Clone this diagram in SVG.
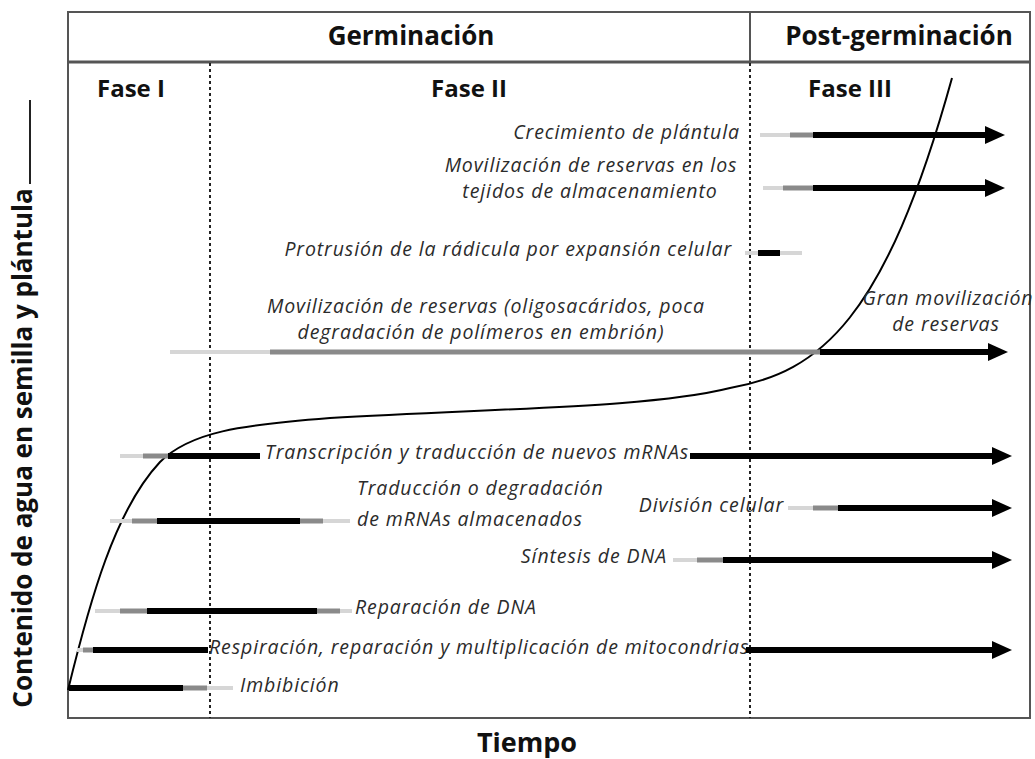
<svg xmlns="http://www.w3.org/2000/svg" width="1035" height="759" viewBox="0 0 1035 759">
<style>
.hd{font-family:"Open Sans","Liberation Sans",sans-serif;font-weight:700;fill:#111}
.lb{font-family:"Open Sans","Liberation Sans",sans-serif;font-style:italic;font-size:19.5px;letter-spacing:0.9px;fill:#2b2b2b}
.lt{stroke:#d6d6d6;stroke-width:4;fill:none}
.md{stroke:#8a8a8a;stroke-width:5;fill:none}
.bk{stroke:#000;stroke-width:6;fill:none}
.ar{marker-end:url(#ah)}
.dash{stroke:#222;stroke-width:2;stroke-dasharray:3 3;fill:none}
.frame{stroke:#555;stroke-width:2;fill:#fff}
</style>
<defs>
<marker id="ah" markerUnits="userSpaceOnUse" markerWidth="20" markerHeight="18" viewBox="0 0 20 18" refX="1" refY="9" orient="auto">
<path d="M0,0 L20,9 L0,18 z" fill="#000"/>
</marker>
</defs>
<rect width="1035" height="759" fill="#fff"/>
<g id="frame">
<rect class="frame" x="68" y="12" width="962" height="706"/>
<line x1="68" y1="62" x2="1030" y2="62" stroke="#555" stroke-width="3"/>
<line x1="750" y1="12" x2="750" y2="62" stroke="#555" stroke-width="2"/>
<line class="dash" x1="210" y1="63" x2="210" y2="718"/>
<line class="dash" x1="750" y1="63" x2="750" y2="718"/>
</g>
<g id="headers">
<text class="hd" x="411" y="45" font-size="26" text-anchor="middle">Germinación</text>
<text class="hd" x="899" y="45" font-size="26" text-anchor="middle">Post-germinación</text>
<text class="hd" x="97" y="97" font-size="24">Fase I</text>
<text class="hd" x="469" y="97" font-size="24" text-anchor="middle">Fase II</text>
<text class="hd" x="850" y="97" font-size="24" text-anchor="middle">Fase III</text>
<text class="hd" x="527" y="752" font-size="27" text-anchor="middle">Tiempo</text>
<text class="hd" transform="translate(32,448) rotate(-90)" font-size="26" text-anchor="middle">Contenido de agua en semilla y plántula</text>
<line x1="30" y1="184" x2="30" y2="100" stroke="#222" stroke-width="2"/>
</g>
<g id="connectors">
<path d="M68,690 C90,600 115,510 160,462 C190,432 240,425 330,418 C500,408 650,408 730,388 C820,372 885,320 952,78" fill="none" stroke="#000" stroke-width="2"/>
</g>
<g id="crecimiento">
<text class="lb" x="740" y="139" text-anchor="end">Crecimiento de plántula</text>
<line class="lt" x1="760" y1="135" x2="790" y2="135"/>
<line class="md" x1="790" y1="135" x2="813" y2="135"/>
<line class="bk ar" x1="813" y1="135" x2="986" y2="135"/>
</g>
<g id="movilizacion-tejidos">
<text class="lb" x="591" y="172" text-anchor="middle">Movilización de reservas en los</text>
<text class="lb" x="590" y="198" text-anchor="middle">tejidos de almacenamiento</text>
<line class="lt" x1="763" y1="188" x2="783" y2="188"/>
<line class="md" x1="783" y1="188" x2="813" y2="188"/>
<line class="bk ar" x1="813" y1="188" x2="986" y2="188"/>
</g>
<g id="protrusion">
<text class="lb" x="732" y="256" text-anchor="end">Protrusión de la rádicula por expansión celular</text>
<line class="lt" x1="745" y1="253" x2="758" y2="253"/>
<line class="bk" x1="758" y1="253" x2="780" y2="253"/>
<line class="lt" x1="780" y1="253" x2="802" y2="253"/>
</g>
<g id="movilizacion-reservas">
<text class="lb" x="486" y="313" text-anchor="middle">Movilización de reservas (oligosacáridos, poca</text>
<text class="lb" x="481" y="339" text-anchor="middle">degradación de polímeros en embrión)</text>
<line class="lt" x1="170" y1="352" x2="270" y2="352"/>
<line class="md" x1="270" y1="352" x2="820" y2="352"/>
<line class="bk ar" x1="820" y1="352" x2="989" y2="352"/>
</g>
<g id="gran-movilizacion">
<text class="lb" x="948" y="305" text-anchor="middle">Gran movilización</text>
<text class="lb" x="946" y="331" text-anchor="middle">de reservas</text>
</g>
<g id="transcripcion">
<text class="lb" x="265" y="459">Transcripción y traducción de nuevos mRNAs</text>
<line class="lt" x1="120" y1="456" x2="143" y2="456"/>
<line class="md" x1="143" y1="456" x2="168" y2="456"/>
<line class="bk" x1="168" y1="456" x2="260" y2="456"/>
<line class="bk ar" x1="690" y1="456" x2="993" y2="456"/>
</g>
<g id="traduccion">
<text class="lb" x="357" y="495">Traducción o degradación</text>
<text class="lb" x="357" y="526">de mRNAs almacenados</text>
<line class="lt" x1="110" y1="521" x2="132" y2="521"/>
<line class="md" x1="132" y1="521" x2="157" y2="521"/>
<line class="bk" x1="157" y1="521" x2="300" y2="521"/>
<line class="md" x1="300" y1="521" x2="323" y2="521"/>
<line class="lt" x1="323" y1="521" x2="350" y2="521"/>
</g>
<g id="division">
<text class="lb" x="784" y="512" text-anchor="end">División celular</text>
<line class="lt" x1="788" y1="508" x2="813" y2="508"/>
<line class="md" x1="813" y1="508" x2="838" y2="508"/>
<line class="bk ar" x1="838" y1="508" x2="993" y2="508"/>
</g>
<g id="sintesis">
<text class="lb" x="667" y="563" text-anchor="end">Síntesis de DNA</text>
<line class="lt" x1="673" y1="560" x2="697" y2="560"/>
<line class="md" x1="697" y1="560" x2="723" y2="560"/>
<line class="bk ar" x1="723" y1="560" x2="993" y2="560"/>
</g>
<g id="reparacion">
<text class="lb" x="355" y="614">Reparación de DNA</text>
<line class="lt" x1="95" y1="611" x2="120" y2="611"/>
<line class="md" x1="120" y1="611" x2="147" y2="611"/>
<line class="bk" x1="147" y1="611" x2="317" y2="611"/>
<line class="md" x1="317" y1="611" x2="340" y2="611"/>
<line class="lt" x1="340" y1="611" x2="352" y2="611"/>
</g>
<g id="respiracion">
<text class="lb" x="209" y="654">Respiración, reparación y multiplicación de mitocondrias</text>
<line class="lt" x1="77" y1="650" x2="83" y2="650"/>
<line class="md" x1="83" y1="650" x2="93" y2="650"/>
<line class="bk" x1="93" y1="650" x2="208" y2="650"/>
<line class="bk ar" x1="746" y1="650" x2="993" y2="650"/>
</g>
<g id="imbibicion">
<text class="lb" x="240" y="692">Imbibición</text>
<line class="bk" x1="69" y1="688" x2="183" y2="688"/>
<line class="md" x1="183" y1="688" x2="207" y2="688"/>
<line class="lt" x1="207" y1="688" x2="233" y2="688"/>
</g>
</svg>
